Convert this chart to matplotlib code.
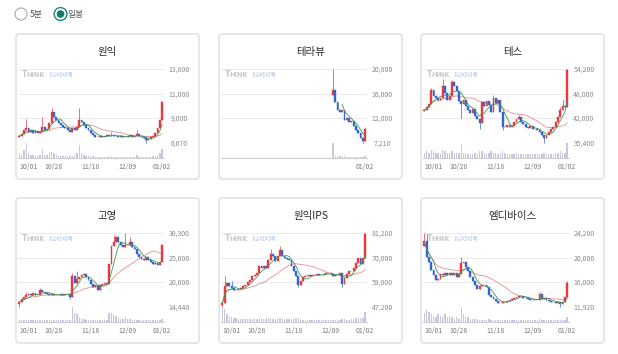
import numpy as np
import pandas as pd
import matplotlib
matplotlib.use("Agg")
import matplotlib.pyplot as plt
from matplotlib.patches import FancyBboxPatch, Circle, Rectangle

plt.rcParams['font.family'] = ['Noto Sans CJK KR', 'DejaVu Sans']

W, H = 618, 354
RED = '#e43a40'
BLUE = '#3264d2'
MA5_COLOR = '#3b9a5a'
MA20_COLOR = '#e98e8e'
VOL_COLOR = '#c6c9de'

# trading days 10/01 .. 01/02, index 0..62
date_labels = ["10/01", "10/28", "11/18", "12/09", "01/02"]
date_idx = [0, 15, 31, 47, 62]

# ---- 원익 ----
wonik_range = (6670, 13800)
wonik_ylabels = ["6,670", "9,000", "11,000", "13,800"]
wonik_start = 0
wonik_open0 = 7250
wonik_close = [7320, 7510, 7900, 8060, 7740, 7900, 7640, 7800, 7580, 7740,
               8220, 7900, 7970, 8550, 9680, 9200, 8870, 8550, 8390, 8220,
               8060, 7900, 7740, 8060, 7900, 8220, 8870, 8710, 8390, 8060,
               7900, 7580, 7420, 7250, 7190, 7320, 7250, 7320, 7380, 7320,
               7420, 7350, 7320, 7250, 7320, 7190, 7250, 7320, 7380, 7250,
               7320, 7510, 7320, 7190, 7090, 6930, 7060, 7190, 7320, 7580,
               8060, 8870, 10560]
wonik_hi = {3: 8940, 10: 9130, 14: 10000, 26: 10000, 40: 7740, 51: 7900, 62: 10720}
wonik_lo = {55: 6670}
wonik_vol = [3, 2, 5, 10, 3, 2, 2, 1, 1, 2,
             6, 2, 2, 4, 4, 3, 2, 1, 1, 1,
             1, 1, 1, 1, 2, 3, 8.5, 3, 2, 1,
             1, 1, 1, 0.8, 0.8, 0.8, 0.8, 0.8, 0.8, 0.8,
             1, 0.8, 0.8, 0.8, 0.8, 0.8, 0.8, 0.8, 0.8, 0.8,
             0.8, 2, 0.8, 0.8, 0.8, 0.8, 0.8, 0.8, 1, 1,
             2, 3, 6]

# ---- 테라뷰 ----
terra_range = (7210, 20800)
terra_ylabels = ["7,210", "12,000", "16,000", "20,800"]
terra_start = 48
terra_open0 = 16000
terra_close = [17000, 14800, 13300, 12900, 13300, 11400, 11700, 11000, 11300, 10300,
               9500, 9000, 8000, 7500, 9800]
terra_hi = {48: 20800, 62: 10100}
terra_lo = {61: 7210}
terra_vol = [10, 1.5, 1, 1, 0.8, 1, 0.7, 0.6, 0.7, 0.6, 0.6, 0.7, 0.8, 0.6, 1.2]

# ---- 테스 ----
tes_range = (35400, 54200)
tes_ylabels = ["35,400", "42,000", "48,000", "54,200"]
tes_start = 0
tes_open0 = 43400
tes_close = [43780, 44460, 45320, 48740, 47200, 46770, 46340, 46770, 49760, 48050,
             46170, 47370, 50790, 49940, 48480, 45920, 45320, 46170, 44800, 43780,
             42920, 43950, 42240, 41390, 40530, 45660, 44800, 45920, 45060, 43350,
             46770, 45490, 46170, 43350, 39500, 39330, 39930, 39500, 39760, 40790,
             41390, 41900, 40790, 40100, 39500, 39080, 39680, 38820, 38990, 38650,
             38220, 37370, 36510, 37450, 38220, 38990, 39500, 40700, 41900, 43780,
             44800, 44460, 53870]
tes_hi = {3: 49340, 8: 51640, 12: 51470, 30: 47630, 41: 42410, 59: 44630, 60: 46520, 62: 54200}
tes_lo = {16: 41640, 24: 38820, 34: 38650, 52: 35400}
tes_vol = [3, 4, 3, 5, 4, 3, 3, 2, 5, 4,
           3, 3, 4, 3, 3, 3, 8, 3, 3, 2,
           2, 2, 3, 2, 4, 4, 3, 2, 3, 4,
           3, 3, 2, 3, 4, 3, 2, 2, 2, 2,
           3, 2, 2, 2, 2, 2, 2, 2, 2, 2,
           2, 2, 3, 2, 2, 2, 2, 3, 3, 4,
           3, 3, 9]

# ---- 고영 ----
koh_range = (14440, 30300)
koh_ylabels = ["14,440", "20,000", "25,000", "30,300"]
koh_start = 0
koh_open0 = 15100
koh_close = [15440, 16020, 16450, 16880, 17170, 16880, 17310, 16880, 17030, 18030,
             17600, 17380, 17240, 17030, 17100, 16880, 17030, 16880, 17100, 16880,
             17240, 17100, 16450, 21050, 19610, 20470, 20830, 21190, 21480, 20760,
             20110, 19390, 18680, 19040, 17960, 19040, 19320, 19610, 19390, 23700,
             27510, 28370, 29450, 28370, 27650, 27220, 27650, 27800, 28370, 27290,
             26930, 25860, 25140, 24780, 24420, 25140, 24420, 24060, 23700, 23770,
             23490, 24060, 27650]
koh_hi = {3: 17600, 9: 18460, 23: 21760, 25: 22050, 41: 29800, 46: 30300, 48: 29450, 62: 28010}
koh_lo = {0: 14440, 22: 16020}
koh_vol = [1, 1, 1, 1, 1, 1, 1, 1, 1, 1.5,
           1, 1, 1, 1, 1, 1, 1, 1, 1, 1,
           1, 1, 1, 10, 6, 5, 3, 2, 2, 1.5,
           1, 1, 1, 1, 1.5, 1, 1, 1, 1, 6,
           6, 5, 4, 3, 2, 2, 3, 2, 2, 1.5,
           1, 1, 1, 1, 1, 1, 1, 1, 1, 1,
           1, 1, 2]

# ---- 원익IPS ----
ips_range = (47200, 81200)
ips_ylabels = ["47,200", "59,000", "70,000", "81,200"]
ips_start = 0
ips_open0 = 48000
ips_close = [48770, 56920, 58170, 56600, 55660, 55040, 54720, 55350, 55660, 56600,
             57390, 58480, 59740, 61300, 61930, 62870, 66000, 65060, 66000, 65220,
             68820, 71330, 70390, 68360, 70710, 73530, 70710, 69760, 69140, 68820,
             66000, 63650, 61300, 57390, 58950, 60990, 61300, 61620, 61300, 61620,
             61930, 62240, 61620, 61930, 62240, 62560, 62870, 62240, 61300, 61930,
             61620, 62560, 57860, 60520, 62090, 63650, 63500, 65220, 67570, 69450,
             66790, 69760, 80800]
ips_hi = {1: 61300, 4: 58950, 21: 73840, 25: 75410, 62: 81200}
ips_lo = {0: 47200, 33: 56290, 52: 56290}
ips_vol = [9, 8, 5, 3, 3, 2, 2, 1.5, 1.5, 1.5,
           1.5, 1.5, 1.5, 1.5, 1.5, 1.5, 2, 1.5, 1.5, 1.5,
           2, 2, 1.5, 1.5, 1.5, 2, 1.5, 1.5, 1.5, 1.5,
           1.5, 1.5, 2, 2, 1.5, 1, 1, 1, 1, 1,
           1, 1, 1, 1, 1, 1, 1, 1, 1, 1,
           1, 1, 1.5, 1.5, 1, 1, 1.5, 1.5, 2, 2,
           2, 2, 6]

# ---- 엠디바이스 ----
md_range = (11920, 24200)
md_ylabels = ["11,920", "16,000", "20,000", "24,200"]
md_start = 0
md_open0 = 22000
md_close = [22790, 20250, 19410, 18000, 17160, 16310, 16590, 17440, 17160, 17610,
            17270, 17550, 17270, 17610, 16870, 17440, 19130, 19410, 18560, 17830,
            16870, 16140, 15580, 14900, 15350, 15580, 15470, 15130, 13890, 13500,
            13210, 12880, 12540, 12540, 12650, 12760, 12930, 13050, 13210, 13440,
            13610, 13780, 13660, 13440, 13330, 13210, 13100, 13050, 12990, 13100,
            14000, 13210, 13330, 13100, 12930, 12760, 12650, 12540, 12650, 12370,
            12760, 13500, 15920]
md_hi = {0: 24200, 1: 24000, 16: 20250, 50: 14450, 62: 16140}
md_lo = {59: 11920}
md_vol = [6, 8, 7, 5, 4, 3, 5, 4, 3, 5,
          3, 4, 3, 2, 3, 2, 10, 5, 3, 3,
          2, 2, 2, 2, 1.5, 1.5, 1.5, 1.5, 2, 1.5,
          1, 1, 1, 1, 1, 1, 1, 1, 1, 1,
          1, 1, 1, 1, 1, 1, 1, 1, 1, 1,
          2, 1, 1, 1, 1, 1, 1, 1, 1, 1.5,
          1, 1.5, 3]

panels = [
    ("원익", wonik_range, wonik_ylabels, wonik_start, wonik_open0, wonik_close, wonik_hi, wonik_lo, wonik_vol),
    ("테라뷰", terra_range, terra_ylabels, terra_start, terra_open0, terra_close, terra_hi, terra_lo, terra_vol),
    ("테스", tes_range, tes_ylabels, tes_start, tes_open0, tes_close, tes_hi, tes_lo, tes_vol),
    ("고영", koh_range, koh_ylabels, koh_start, koh_open0, koh_close, koh_hi, koh_lo, koh_vol),
    ("원익IPS", ips_range, ips_ylabels, ips_start, ips_open0, ips_close, ips_hi, ips_lo, ips_vol),
    ("엠디바이스", md_range, md_ylabels, md_start, md_open0, md_close, md_hi, md_lo, md_vol),
]

card_x = [16, 219, 421]
card_y = [34, 198]
card_w, card_h = 183, 145


def px_rect(x, y, w, h):
    return [x / W, 1 - (y + h) / H, w / W, h / H]


fig = plt.figure(figsize=(W / 100, H / 100), dpi=100)
bg = fig.add_axes([0, 0, 1, 1])
bg.set_xlim(0, W)
bg.set_ylim(H, 0)
bg.axis('off')

# radio buttons
bg.add_patch(Circle((21, 14), 6, facecolor='white', edgecolor='#a8a8a8', lw=0.8))
bg.text(29.5, 14.5, "5분", fontsize=6.3, color='#555555', va='center', ha='left')
bg.add_patch(Circle((60.5, 14), 6.4, facecolor='white', edgecolor='#1b8c7b', lw=1.0))
bg.add_patch(Circle((60.5, 14), 3.8, facecolor='#157a6b', edgecolor='none'))
bg.text(67, 14.5, "일봉", fontsize=6.3, color='#555555', va='center', ha='left')


def draw_panel(cx, cy, name, yrange, ylabels, start, open0, closes, wick_hi, wick_lo, vols):
    bg.add_patch(FancyBboxPatch((cx, cy), card_w, card_h,
                                boxstyle="round,pad=0,rounding_size=3",
                                facecolor='white', edgecolor='#d9d9d9', lw=0.9))
    bg.text(cx + card_w / 2, cy + 17.5, name, fontsize=7.5, fontweight='medium',
            color='#2a2a2a', ha='center', va='center')
    # watermark
    bg.text(cx + 5.7, cy + 40.8, "T", fontsize=5.6, fontweight='bold', color='#c9c9c9',
            family='DejaVu Sans', ha='left', va='center')
    bg.text(cx + 10.8, cy + 41.1, "HINK", fontsize=4.7, fontweight='bold', color='#c9c9c9',
            family='DejaVu Sans', ha='left', va='center')
    bg.add_patch(Rectangle((cx + 34, cy + 37.8), 21.8, 5.6, facecolor='#cfdcf0', edgecolor='none'))
    bg.text(cx + 44.9, cy + 40.8, "POOL", fontsize=4.8, fontweight='bold', color='white',
            family='DejaVu Sans', ha='center', va='center')

    lo, hi = yrange
    idx = np.arange(start, start + len(closes))
    c = np.array(closes, dtype=float)
    o = np.r_[open0, c[:-1]]
    h = np.maximum(o, c)
    l = np.minimum(o, c)
    for k, v in wick_hi.items():
        h[k - start] = v
    for k, v in wick_lo.items():
        l[k - start] = v
    colors = np.where(c >= o, RED, BLUE)

    ax = fig.add_axes(px_rect(cx + 1.5, cy + 35, 146.5, 73.7))
    ax.patch.set_alpha(0)
    ax.vlines(idx, l, h, colors=colors, lw=0.5, clip_on=False, zorder=3)
    ax.bar(idx, np.abs(c - o), bottom=np.minimum(o, c), width=0.8, color=colors,
           edgecolor=colors, linewidth=0.3, clip_on=False, zorder=3)
    minp = 1 if start == 0 else None
    s = pd.Series(c)
    ma5 = s.rolling(5, min_periods=minp).mean()
    ma20 = s.rolling(20, min_periods=minp).mean()
    ax.plot(idx, ma20, color=MA20_COLOR, lw=0.6, zorder=2)
    ax.plot(idx, ma5, color=MA5_COLOR, lw=0.6, zorder=4)
    ax.set_xlim(-0.8, 62.8)
    ax.set_ylim(lo, hi)
    ax.set_xticks([])
    ax.set_yticks(np.linspace(lo, hi, 4))
    ax.set_yticklabels(ylabels)
    ax.yaxis.tick_right()
    ax.tick_params(axis='y', length=0, pad=10.8, labelsize=5, labelcolor='#8a8a8a')
    for t in ax.get_yticklabels():
        t.set_ha('center')
    ax.grid(axis='y', color='#e6e6e6', lw=0.6)
    ax.set_axisbelow(True)
    for sp in ax.spines.values():
        sp.set_visible(False)

    vax = fig.add_axes(px_rect(cx + 1.5, cy + 108.7, 146.5, 15))
    vax.patch.set_alpha(0)
    vax.bar(idx, vols, width=0.6, color=VOL_COLOR)
    vax.set_xlim(-0.8, 62.8)
    vax.set_ylim(0, max(vols) * 1.03)
    vax.set_yticks([])
    ticks = [(i, t) for i, t in zip(date_idx, date_labels) if i > start or start == 0]
    vax.set_xticks([i for i, _ in ticks])
    vax.set_xticklabels([t for _, t in ticks])
    vax.tick_params(axis='x', length=0, pad=4, labelsize=5, labelcolor='#7a7a7a')
    if start == 0:
        vax.get_xticklabels()[0].set_ha('left')
    for k, sp in vax.spines.items():
        sp.set_visible(k == 'bottom')
    vax.spines['bottom'].set_color('#cfcfcf')
    vax.spines['bottom'].set_linewidth(0.8)


for n, p in enumerate(panels):
    cx = card_x[n % 3]
    cy = card_y[n // 3]
    draw_panel(cx, cy, *p)

fig.savefig("out.png", dpi=100)
